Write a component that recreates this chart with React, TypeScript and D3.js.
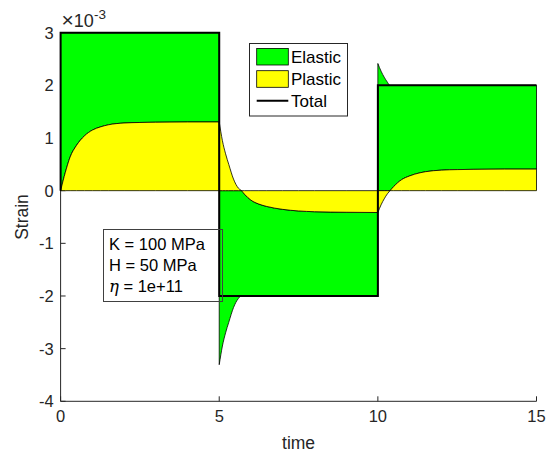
import React from "react";
import * as d3 from "d3";

// ---- data (strain values in units of 1e-3) ----
const yExponent = -3;
const segmentBounds = [0, 5, 10, 15];
const totalLevels = [3, -2, 2];

const seg1Time = [0, 0.15, 0.3, 0.5, 0.75, 1.0, 1.25, 1.5, 2.0, 2.5, 3.0, 4.0, 5.0];
const seg1Plastic = [0, 0.35, 0.64, 0.86, 1.04, 1.15, 1.21, 1.25, 1.285, 1.295, 1.3, 1.305, 1.305];

const seg2Time = [5, 5.1, 5.2, 5.3, 5.45, 5.6, 5.7, 5.8, 6.0, 6.25, 6.5, 7.0, 7.5, 8.0, 9.0, 10.0];
const seg2Plastic = [1.305, 0.95, 0.7, 0.5, 0.22, 0.05, 0, -0.07, -0.18, -0.255, -0.3, -0.355, -0.385, -0.4, -0.41, -0.415];

const seg3Time = [10, 10.1, 10.2, 10.3, 10.38, 10.5, 10.75, 11.0, 11.33, 11.5, 12.0, 12.5, 13.0, 14.0, 15.0];
const seg3Plastic = [-0.415, -0.27, -0.155, -0.06, 0, 0.08, 0.21, 0.28, 0.34, 0.36, 0.39, 0.4, 0.405, 0.41, 0.41];

const xTicks = [0, 5, 10, 15];
const yTicks = [-4, -3, -2, -1, 0, 1, 2, 3];
const legendLabels = ["Elastic", "Plastic", "Total"];
const annotationLines = ["K = 100 MPa", "H = 50 MPa", "1e+11"];

const W = 546;
const H = 462;
const ml = 60.6, mr = 536.5, mt = 32.7, mb = 401.3;
const axisColor = "#262626";
const font = "Liberation Sans, Arial, Helvetica, sans-serif";

type Pt = { t: number; p: number; tot: number };

export default function App() {
  const x = d3.scaleLinear().domain([0, 15]).range([ml, mr]);
  const y = d3.scaleLinear().domain([-4, 3]).range([mb, mt]);

  const segs: Pt[][] = [
    seg1Time.map((t, i) => ({ t, p: seg1Plastic[i], tot: totalLevels[0] })),
    seg2Time.map((t, i) => ({ t, p: seg2Plastic[i], tot: totalLevels[1] })),
    seg3Time.map((t, i) => ({ t, p: seg3Plastic[i], tot: totalLevels[2] })),
  ];

  // stacked areas: positives and negatives stacked separately
  const base = (d: Pt) => {
    const e = d.tot - d.p;
    return d.p * e >= 0 ? d.p : 0;
  };
  const greenArea = d3
    .area<Pt>()
    .x((d) => x(d.t))
    .y0((d) => y(base(d)))
    .y1((d) => y(base(d) + d.tot - d.p))
    .curve(d3.curveMonotoneX);
  const yellowArea = d3
    .area<Pt>()
    .x((d) => x(d.t))
    .y0(() => y(0))
    .y1((d) => y(d.p))
    .curve(d3.curveMonotoneX);

  const totalPts: [number, number][] = [[0, 0]];
  totalLevels.forEach((lv, i) => {
    totalPts.push([segmentBounds[i], lv]);
    totalPts.push([segmentBounds[i + 1], lv]);
  });
  const totalLine = d3
    .line<[number, number]>()
    .x((d) => x(d[0]))
    .y((d) => y(d[1]));

  const tl = 5;
  const lgX = 249.5, lgY = 43.5, lgW = 98, lgH = 72.5;
  const rowC = [56.7, 79, 100.7];
  const swX0 = 256.7, swX1 = 288.3;

  return (
    <svg width={W} height={H} style={{ position: "absolute", left: 0, top: 0, background: "#fff" }} fontFamily={font}>
      <rect x={0} y={0} width={W} height={H} fill="#fff" />
      {/* axes (layer bottom) */}
      <g stroke={axisColor} strokeWidth={1} fill="none">
        <line x1={ml} x2={ml} y1={mt} y2={mb} />
        <line x1={ml} x2={mr} y1={mb} y2={mb} />
        {xTicks.map((t) => (
          <line key={"xt" + t} x1={x(t)} x2={x(t)} y1={mb} y2={mb - tl} />
        ))}
        {yTicks.map((t) => (
          <line key={"yt" + t} x1={ml} x2={ml + tl} y1={y(t)} y2={y(t)} />
        ))}
      </g>
      {/* data */}
      {segs.map((s, i) => (
        <path key={"g" + i} d={greenArea(s) || ""} fill="#00ff00" stroke="#000" strokeWidth={0.8} />
      ))}
      {segs.map((s, i) => (
        <path key={"y" + i} d={yellowArea(s) || ""} fill="#ffff00" stroke="#000" strokeWidth={0.8} />
      ))}
      <path d={totalLine(totalPts) || ""} fill="none" stroke="#000" strokeWidth={2} />

      {/* tick labels */}
      <g fill={axisColor} fontSize={16.5}>
        {xTicks.map((t) => (
          <text key={"xl" + t} x={x(t)} y={mb + 21} textAnchor="middle">
            {t}
          </text>
        ))}
        {yTicks.map((t) => (
          <text key={"yl" + t} x={ml - 7} y={y(t) + 6} textAnchor="end">
            {t}
          </text>
        ))}
        <text x={ml + 1} y={27}>
          <tspan fontSize={21}>×</tspan>
          <tspan fontSize={18}>10</tspan>
          <tspan fontSize={13.5} dy={-8}>
            {String(yExponent)}
          </tspan>
        </text>
      </g>
      <text x={(ml + mr) / 2} y={449} textAnchor="middle" fontSize={17.5} fill={axisColor}>
        time
      </text>
      <text
        transform={`translate(${28},${(mt + mb) / 2}) rotate(-90)`}
        textAnchor="middle"
        fontSize={17.5}
        fill={axisColor}
      >
        Strain
      </text>

      {/* legend */}
      <rect x={lgX} y={lgY} width={lgW} height={lgH} fill="#fff" stroke={axisColor} strokeWidth={1} />
      <rect x={swX0} y={rowC[0] - 8.3} width={swX1 - swX0} height={16.6} fill="#00ff00" stroke="#000" strokeWidth={0.8} />
      <rect x={swX0} y={rowC[1] - 8.3} width={swX1 - swX0} height={16.6} fill="#ffff00" stroke="#000" strokeWidth={0.8} />
      <line x1={swX0} x2={swX1} y1={rowC[2]} y2={rowC[2]} stroke="#000" strokeWidth={2} />
      {legendLabels.map((l, i) => (
        <text key={l} x={291} y={rowC[i] + 6} fontSize={17} fill="#000">
          {l}
        </text>
      ))}

      {/* annotation */}
      <rect x={103.5} y={229.5} width={119} height={72} fill="none" stroke="#404040" strokeWidth={1} />
      <g fontSize={16.5} fill="#000">
        <text x={109} y={250}>{annotationLines[0]}</text>
        <text x={109} y={271}>{annotationLines[1]}</text>
        <text x={109} y={292}>
          <tspan fontFamily="DejaVu Serif, serif" fontStyle="italic">η</tspan>
          {" = " + annotationLines[2]}
        </text>
      </g>
    </svg>
  );
}
